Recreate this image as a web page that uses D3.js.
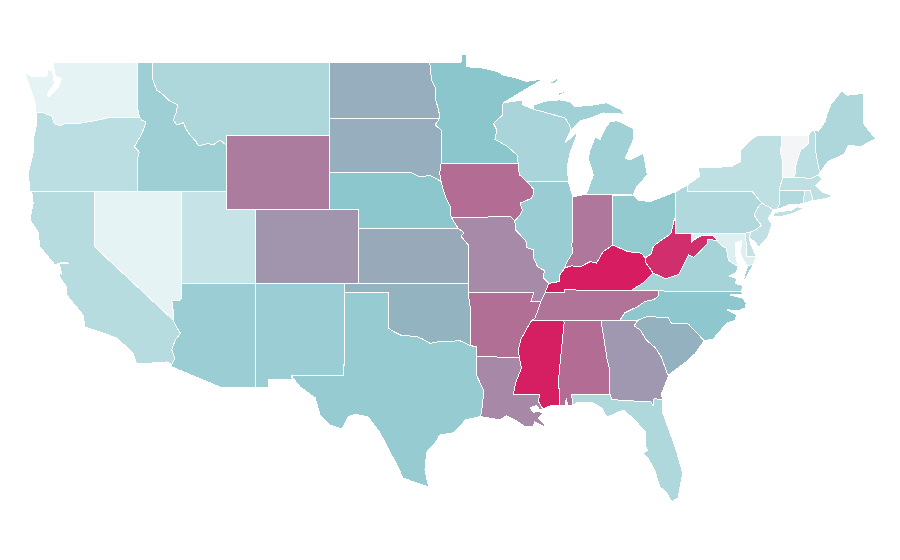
<!DOCTYPE html>
<html>
<head>
<meta charset="utf-8">
<title>US states choropleth</title>
<script src="https://cdn.jsdelivr.net/npm/d3@7"></script>
<style>
  html, body { margin: 0; padding: 0; background: #fff; }
  svg { display: block; }
</style>
</head>
<body>
<svg id="map" width="900" height="560"></svg>
<script>
// values, 0 = palest, 100 = deepest
const stateNames = ["WA","OR","CA","NV","ID","MT","WY","UT","CO","AZ","NM","ND","SD","NE","KS","OK","TX","MN","IA","MO","AR","LA","WI","IL","IN","MI","OH","KY","TN","MS","AL","GA","SC","NC","VA","WV","FL","PA","NY","NJ","DE","MD","CT","RI","MA","VT","NH","ME"];
const stateValues = [8,28,29.5,8,41.6,33.7,71.6,22.5,64.3,43,42.5,57,57,49.5,58.5,55.5,45.3,50,76,67.5,75.5,68,36.5,43.5,73,40,46.7,99.7,74,99,76,63.5,56,48.5,38,94.5,33,32.5,26,25.5,24,11.7,32,22,26,0.5,28,33.7];
const colorStops = ["#f5f5f6", "#e5f3f4", "#8bc6cd", "#d81b60"];
const colorDomain = [0, 8, 50, 100];

// shared borders, lon/lat
const r = a => a.slice().reverse();
const waOr = [[-123.95,46.24],[-123.5,46.27],[-123.2,46.15],[-122.9,46.1],[-122.8,45.85],[-122.7,45.65],[-122.3,45.55],[-121.9,45.68],[-121.2,45.65],[-120.6,45.73],[-119.9,45.83],[-119.3,45.93],[-119.0,46.0],[-116.92,46.0]];
const orId = [[-116.92,46.0],[-116.78,45.85],[-116.5,45.76],[-116.6,45.45],[-116.85,45.0],[-117.28,44.41],[-117.05,44.23],[-116.95,44.1],[-117.03,43.83],[-117.03,42.0]];
const idMt = [[-116.05,49.0],[-116.05,48.1],[-115.76,47.48],[-115.35,47.25],[-114.97,46.94],[-114.33,46.67],[-114.45,46.25],[-114.63,45.86],[-114.4,45.59],[-113.95,45.71],[-113.75,45.35],[-113.5,45.04],[-113.1,44.7],[-112.93,44.45],[-112.4,44.56],[-111.85,44.55],[-111.46,44.77],[-111.05,44.5]];
const azNv = [[-114.05,36.2],[-114.3,36.05],[-114.74,36.1],[-114.65,35.6],[-114.63,35.0]];
const azCa = [[-114.63,35.0],[-114.4,34.6],[-114.14,34.3],[-114.5,33.93],[-114.74,33.4],[-114.52,32.95],[-114.74,32.62]];
const redRiver = [[-100.0,34.56],[-99.7,34.4],[-99.2,34.2],[-98.6,34.15],[-98.1,34.13],[-97.7,33.98],[-97.2,33.75],[-96.6,33.85],[-95.8,33.86],[-95.2,33.9],[-94.48,33.64]];
const sabine = [[-93.8,29.78],[-93.7,30.05],[-93.55,31.18],[-94.04,32.0],[-94.04,33.02]];
const mnWi = [[-92.25,46.78],[-92.27,46.13],[-92.9,45.68],[-92.67,45.31],[-92.8,44.81],[-92.0,44.45],[-91.3,43.96],[-91.22,43.5]];
const iaWi = [[-91.22,43.5],[-91.15,42.9],[-90.64,42.5]];
const iaIl = [[-90.64,42.5],[-90.15,42.1],[-90.15,41.9],[-90.35,41.6],[-91.1,41.35],[-90.93,40.98],[-91.1,40.7],[-91.45,40.4]];
const moIl = [[-91.45,40.4],[-91.4,39.9],[-90.7,39.3],[-90.65,38.95],[-90.15,38.8],[-90.2,38.4],[-89.9,37.9],[-89.45,37.7],[-89.5,37.3],[-89.15,37.0]];
const wabash = [[-87.52,39.35],[-87.6,39.1],[-87.5,38.7],[-87.95,38.1],[-88.05,37.85]];
const ilKy = [[-88.05,37.85],[-88.45,37.4],[-88.45,37.1],[-89.15,37.0]];
const inKy = [[-84.8,39.08],[-85.46,38.72],[-85.9,38.1],[-86.34,38.18],[-87.0,37.9],[-87.6,37.95],[-88.05,37.85]];
const ohKy = [[-82.6,38.38],[-82.86,38.64],[-83.76,38.72],[-84.3,38.9],[-84.8,39.08]];
const ohWv = [[-80.52,40.64],[-80.65,40.4],[-80.85,39.7],[-81.4,39.4],[-81.75,39.2],[-82.05,39.0],[-82.2,38.6],[-82.6,38.38]];
const kyWv = [[-82.6,38.38],[-82.6,38.17],[-82.06,37.56]];
const kyVa = [[-82.06,37.56],[-82.7,37.05],[-83.6,36.6]];
const moKy = [[-89.15,37.0],[-89.4,36.5]];
const moTn = [[-89.4,36.5],[-89.7,36.0]];
const arTn = [[-89.7,36.0],[-89.9,35.5],[-90.1,35.1],[-90.3,35.0]];
const arMs = [[-90.3,35.0],[-90.6,34.6],[-91.05,33.95],[-91.2,33.4],[-91.15,33.0]];
const laMs = [[-91.15,33.0],[-91.0,32.4],[-91.1,32.2],[-91.4,31.6],[-91.55,31.0]];
const moNe = [[-95.3,40.0],[-95.77,40.58]];
const iaNe = [[-95.77,40.58],[-95.85,41.2],[-96.1,41.6],[-96.35,42.2],[-96.45,42.5]];
const neSd = [[-96.45,42.5],[-96.7,42.65],[-97.2,42.85],[-97.9,42.78],[-98.5,43.0]];
const iaSd = [[-96.45,42.5],[-96.55,43.0],[-96.45,43.5]];
const mnSd = [[-96.45,43.5],[-96.45,45.3],[-96.85,45.6],[-96.56,45.94]];
const mnNd = [[-96.56,45.94],[-96.6,46.3],[-96.8,46.9],[-96.85,47.6],[-97.1,48.0],[-97.23,49.0]];
const ksMo = [[-94.62,39.1],[-95.1,39.55],[-94.9,39.75],[-95.3,40.0]];
const gaSc = [[-83.1,35.0],[-83.35,34.7],[-82.9,34.45],[-82.55,33.95],[-81.9,33.5],[-81.5,33.0],[-81.1,32.1],[-81.0,32.04]];
const ncSc = [[-83.1,35.0],[-82.5,35.2],[-81.05,35.15],[-80.8,34.82],[-79.67,34.8],[-78.6,33.9]];
const ncTn = [[-81.68,36.59],[-81.7,36.35],[-82.0,36.12],[-82.6,36.03],[-83.1,35.75],[-84.0,35.4],[-84.32,35.0]];
const vaWv = [[-77.72,39.32],[-78.35,39.4],[-78.4,39.15],[-78.85,38.75],[-79.3,38.42],[-79.65,38.55],[-80.3,37.5],[-81.2,37.25],[-82.06,37.56]];
const mdWv = [[-79.48,39.2],[-79.1,39.47],[-78.75,39.6],[-78.4,39.62],[-78.0,39.6],[-77.72,39.32]];
const mdVa = [[-77.72,39.32],[-77.5,39.1],[-77.1,38.9],[-77.05,38.7],[-76.95,38.25],[-76.3,37.9]];
const paNj = [[-74.7,41.36],[-75.05,41.0],[-75.2,40.68],[-74.72,40.15],[-75.1,39.9],[-75.42,39.8]];
const vtNh = [[-71.5,45.01],[-71.5,44.6],[-72.05,44.2],[-72.35,43.5],[-72.46,42.73]];
const meNh = [[-71.08,45.3],[-71.0,44.0],[-70.8,43.2],[-70.7,43.05]];
const wiUp = [[-90.2,46.44],[-89.53,46.3],[-88.05,45.97],[-87.75,45.6],[-87.65,45.3]];
const alGa = [[-85.6,35.0],[-85.18,32.87],[-85.0,32.3],[-85.05,31.55],[-85.0,31.0]];
const alMs = [[-88.2,35.0],[-88.1,34.9],[-88.47,31.9],[-88.42,30.4]];
const flGa = [[-85.0,31.0],[-84.86,30.7],[-82.2,30.57],[-82.05,30.36],[-82.0,30.75],[-81.45,30.7]];
const alFl = [[-87.6,31.0],[-87.5,30.4]];
const laPearl = [[-89.75,31.0],[-89.85,30.6],[-89.55,30.2]];
const nyVt = [[-73.27,42.75],[-73.25,43.6],[-73.4,44.0],[-73.35,45.0]];

// state outlines, every state a list of rings
const stateRings = {
  WA: [[[-122.75,49.0],[-122.73,48.62],[-122.63,48.24],[-122.22,48.08],[-122.46,47.59],[-123.07,47.1],[-123.2,47.27],[-122.7,47.81],[-122.77,48.13],[-122.85,48.55],[-123.14,48.57],[-123.23,48.2],[-124.16,48.19],[-124.7,48.4],[-124.36,47.6],[-124.14,47.12],[-124.02,46.78],[-124.02,46.3],...waOr,[-117.03,46.4],[-117.03,49.0]]],
  OR: [[...waOr,...orId,[-124.36,42.0],[-124.48,42.98],[-124.15,44.07],[-124.14,44.77],[-123.95,45.5]]],
  CA: [[[-124.25,42.0],[-120.0,42.0],[-120.0,39.0],...azCa,[-115.08,32.74],[-117.12,32.63],[-117.37,33.23],[-118.47,34.04],[-119.6,34.37],[-120.63,34.64],[-120.76,35.29],[-121.87,36.37],[-121.87,36.8],[-122.3,37.3],[-122.45,37.7],[-122.2,37.5],[-122.35,37.95],[-122.3,38.15],[-121.7,38.1],[-122.45,38.08],[-122.66,38.0],[-123.68,38.97],[-123.82,39.79],[-124.36,40.44],[-124.15,41.36]]],
  NV: [[[-120.0,42.0],[-114.05,42.0],...azNv,[-120.0,39.0]]],
  ID: [[[-117.03,49.0],...idMt,[-111.05,42.0],[-117.03,42.0],...r(orId),[-117.03,46.4]]],
  MT: [[...idMt,[-111.05,45.0],[-104.05,45.0],[-104.05,49.0]]],
  WY: [[[-111.05,45.0],[-104.05,45.0],[-104.05,41.0],[-111.05,41.0]]],
  UT: [[[-114.05,42.0],[-111.05,42.0],[-111.05,41.0],[-109.05,41.0],[-109.05,37.0],[-114.05,37.0]]],
  CO: [[[-109.05,41.0],[-102.05,41.0],[-102.05,37.0],[-109.05,37.0]]],
  AZ: [[[-114.05,37.0],[-109.05,37.0],[-109.05,31.38],[-111.45,31.38],[-114.8,32.5],...r(azCa),...r(azNv)]],
  NM: [[[-109.05,37.0],[-103.0,37.0],[-103.05,32.0],[-106.62,32.0],[-106.53,31.78],[-108.2,31.78],[-108.2,31.38],[-109.05,31.38]]],
  ND: [[[-104.05,49.0],[-97.23,49.0],...r(mnNd),[-104.05,45.94]]],
  SD: [[[-104.05,45.94],[-96.56,45.94],...r(mnSd),...r(iaSd),...neSd,[-104.05,43.0]]],
  NE: [[[-104.05,43.0],...r(neSd),...r(iaNe),...r(moNe),[-102.05,40.0],[-102.05,41.0],[-104.05,41.0]]],
  KS: [[[-102.05,40.0],[-95.3,40.0],...r(ksMo),[-94.62,37.0],[-102.05,37.0]]],
  OK: [[[-103.0,37.0],[-94.62,37.0],[-94.62,36.5],[-94.43,35.4],...r(redRiver),[-100.0,36.5],[-103.0,36.5]]],
  TX: [[[-103.0,36.5],[-100.0,36.5],...redRiver,[-94.04,33.55],...r(sabine),[-94.83,29.6],[-95.05,29.33],[-95.65,28.9],[-96.53,28.78],[-96.87,28.35],[-97.43,27.86],[-97.55,26.9],[-97.3,25.96],[-99.04,26.45],[-99.38,27.05],[-99.92,27.86],[-100.6,28.9],[-101.4,29.76],[-102.3,29.92],[-102.77,29.76],[-103.2,29.1],[-104.0,29.33],[-104.67,29.87],[-105.0,30.8],[-106.03,31.39],[-106.62,32.0],[-103.05,32.0]]],
  MN: [[[-97.23,49.0],[-95.1,49.0],[-95.1,49.4],[-94.72,49.38],[-94.7,48.74],[-93.6,48.67],[-92.6,48.47],[-92.25,48.3],[-91.32,48.12],[-90.64,47.95],[-89.5,48.08],[-90.6,47.58],...mnWi,[-96.45,43.5],...mnSd,...mnNd]],
  IA: [[[-96.45,43.5],[-91.22,43.5],...iaWi,...iaIl,[-91.73,40.61],[-95.77,40.58],...iaNe,...iaSd]],
  MO: [[[-95.77,40.58],[-91.73,40.61],...moIl,...moKy,...moTn,[-90.37,36.0],[-90.15,36.5],[-94.62,36.5],[-94.62,37.0],...ksMo,...moNe]],
  AR: [[[-94.62,36.5],[-90.15,36.5],[-90.37,36.0],...arTn,...arMs,[-94.04,33.02],[-94.04,33.55],[-94.48,33.64],[-94.43,35.4]]],
  LA: [[[-94.04,33.02],...laMs,...laPearl,[-89.75,30.15],[-90.0,30.38],[-90.4,30.25],[-90.2,30.02],[-89.8,30.05],[-89.5,29.97],[-89.85,29.7],[-89.2,29.13],[-90.1,29.5],[-90.2,29.23],[-90.76,29.23],[-91.24,29.5],[-92.0,29.83],[-92.45,29.6],...sabine]],
  WI: [[[-92.25,46.78],[-90.9,46.94],[-90.9,46.67],...wiUp,[-88.04,44.63],[-87.16,45.22],[-87.7,44.07],[-87.9,43.3],[-87.8,42.5],[-90.64,42.5],...r(iaWi),...r(mnWi)]],
  IL: [[[-90.64,42.5],[-87.8,42.5],[-87.52,41.7],...wabash,...ilKy,...r(moIl),...r(iaIl)]],
  IN: [[[-87.52,41.7],[-86.6,41.83],[-84.8,41.79],...inKy,...r(wabash)]],
  MI: [[...wiUp,[-87.0,45.82],[-86.34,45.96],[-85.46,46.24],[-84.2,46.18],[-84.03,46.13],[-84.2,46.4],[-85.2,46.79],[-86.14,46.67],[-87.36,46.58],[-87.7,46.85],[-88.4,46.94],[-88.4,47.2],[-87.84,47.44],[-88.5,47.32],[-88.5,46.94],[-89.06,46.94],[-90.2,46.67]],
       [[-86.6,41.83],[-86.12,42.88],[-86.46,43.78],[-86.34,44.23],[-86.0,44.92],[-85.66,44.81],[-85.32,45.41],[-84.98,45.76],[-84.53,45.82],[-83.43,45.41],[-83.36,44.86],[-83.97,43.78],[-83.63,43.69],[-82.73,44.05],[-82.45,42.88],[-83.17,42.24],[-83.43,41.79]],
       [[-89.1,47.85],[-88.4,48.2],[-88.7,47.85]]],
  OH: [[[-84.8,41.79],[-83.43,41.79],[-83.08,41.52],[-82.27,41.43],[-81.39,41.7],[-80.52,41.98],...ohWv,...ohKy]],
  KY: [[...r(ilKy),...r(inKy).slice(1),...r(ohKy).slice(1),...kyWv.slice(1),...kyVa.slice(1),[-88.07,36.65],[-88.07,36.5],[-89.4,36.5]]],
  TN: [[[-90.3,35.0],...r(arTn).slice(1),...r(moTn).slice(1),[-88.07,36.5],[-88.07,36.65],[-83.6,36.6],...ncTn,[-85.6,35.0],[-88.2,35.0]]],
  MS: [[...r(laMs),...r(arMs),...alMs,[-89.0,30.38],...r(laPearl)]],
  AL: [[...alGa,...alFl,[-87.85,30.35],[-87.95,30.75],[-88.05,30.38],...r(alMs)]],
  GA: [[...gaSc,[-81.2,31.6],[-81.47,31.06],...r(flGa),...r(alGa)]],
  SC: [[...ncSc,[-79.2,33.2],[-79.9,32.7],...r(gaSc)]],
  NC: [[...r(ncTn),[-76.05,36.55],[-76.0,36.4],[-76.85,36.37],[-75.97,36.2],[-75.75,35.94],[-75.8,35.67],[-76.2,35.55],[-77.06,35.56],[-76.38,35.3],[-76.5,35.0],[-77.06,34.85],[-78.0,33.98],...r(ncSc)]],
  VA: [[[-83.6,36.6],[-81.68,36.59],[-76.05,36.55],[-76.0,36.9],[-76.5,37.0],[-76.35,37.25],[-76.9,37.4],[-76.4,37.6],...r(mdVa),...vaWv,...kyVa],
       [[-75.95,37.15],[-75.65,37.95],[-75.25,38.03],[-75.9,37.1]]],
  WV: [[...ohWv,...kyWv,...r(vaWv),...r(mdWv),[-79.48,39.72],[-80.52,39.72]]],
  FL: [[[-87.6,31.0],...flGa,[-81.4,29.97],[-80.57,28.15],[-80.05,26.72],[-80.37,25.37],[-80.8,25.17],[-81.14,25.64],[-81.6,25.98],[-81.93,26.8],[-82.4,27.54],[-82.75,27.8],[-82.45,27.95],[-82.6,28.24],[-82.6,28.96],[-83.42,29.7],[-84.1,30.14],[-84.87,29.87],[-85.2,29.76],[-85.55,30.25],[-86.14,30.52],[-87.25,30.52],[-87.5,30.4]]],
  PA: [[[-80.52,41.98],[-80.52,39.72],[-75.79,39.72],...r(paNj),[-75.35,42.0],[-79.76,42.0],[-79.76,42.33]]],
  NY: [[[-79.76,42.33],[-79.76,42.0],[-75.35,42.0],[-74.7,41.36],[-73.9,41.0],[-73.65,41.0],[-73.5,41.3],[-73.5,42.05],...nyVt,[-75.0,45.0],[-75.3,44.85],[-76.15,44.2],[-76.15,43.6],[-76.7,43.35],[-77.5,43.3],[-79.0,43.27],[-78.9,42.8]],
       [[-74.0,40.6],[-73.75,40.85],[-72.6,40.98],[-72.3,41.15],[-71.87,41.07],[-72.5,40.8],[-73.5,40.6]]],
  NJ: [[...paNj,[-75.55,39.5],[-75.1,39.2],[-74.9,38.95],[-74.3,39.5],[-74.0,40.2],[-74.25,40.5],[-73.9,41.0]]],
  DE: [[[-75.79,39.72],[-75.42,39.8],[-75.55,39.5],[-75.4,39.05],[-75.05,38.45],[-75.7,38.46]]],
  MD: [[[-79.48,39.72],[-75.79,39.72],[-75.7,38.46],[-75.05,38.45],[-75.25,38.03],[-75.65,37.95],[-75.9,38.2],[-76.15,38.6],[-76.05,39.3],[-76.45,39.2],[-76.5,38.7],[-76.4,38.3],...r(mdVa),...r(mdWv)]],
  CT: [[[-73.5,42.05],[-71.8,42.02],[-71.85,41.32],[-72.9,41.25],[-73.65,41.0],[-73.5,41.3]]],
  RI: [[[-71.8,42.02],[-71.38,42.02],[-71.2,41.5],[-71.85,41.32]]],
  MA: [[[-73.5,42.05],[-73.27,42.75],[-72.46,42.73],[-71.3,42.7],[-70.85,42.87],[-70.6,42.65],[-71.05,42.3],[-70.6,41.95],[-70.05,41.8],[-70.2,42.08],[-69.95,41.7],[-70.6,41.55],[-71.2,41.5],[-71.38,42.02],[-71.8,42.02]]],
  VT: [[...nyVt,...vtNh]],
  NH: [[[-71.3,45.3],...vtNh,[-71.3,42.7],[-70.85,42.87],...r(meNh)]],
  ME: [[[-71.08,45.3],[-70.85,45.25],[-70.4,45.75],[-70.25,46.2],[-70.0,46.7],[-69.25,47.45],[-68.9,47.2],[-67.8,47.3],[-67.8,45.7],[-67.45,45.3],[-66.95,44.85],[-68.0,44.4],[-68.8,44.5],[-69.1,44.0],[-70.2,43.6],...r(meNh)]]
};

var x = d3.scaleLinear().domain([-124.7, -67]).range([25, 875]);
var y = d3.scaleLinear().domain([49, 25]).range([62, 504.8]);
var color = d3.scaleLinear().domain(colorDomain).range(colorStops);

// the map is a plain lon/lat grid, no spherical projection
var path = d3.geoPath(d3.geoTransform({
  point: function(lon, lat) { this.stream.point(x(lon), y(lat)); }
}));

var features = stateNames.map(function(name, i) {
  return {
    type: "Feature",
    id: name,
    properties: { value: stateValues[i] },
    geometry: { type: "MultiPolygon", coordinates: stateRings[name].map(function(ring) { return [ring.concat([ring[0]])]; }) }
  };
});

d3.select("#map").selectAll("path")
  .data(features)
  .join("path")
  .attr("d", path)
  .attr("fill", function(d) { return color(d.properties.value); })
  .attr("stroke", "#fff")
  .attr("stroke-width", 1)
  .attr("stroke-linejoin", "round")
  .attr("shape-rendering", "crispEdges");
</script>
</body>
</html>
